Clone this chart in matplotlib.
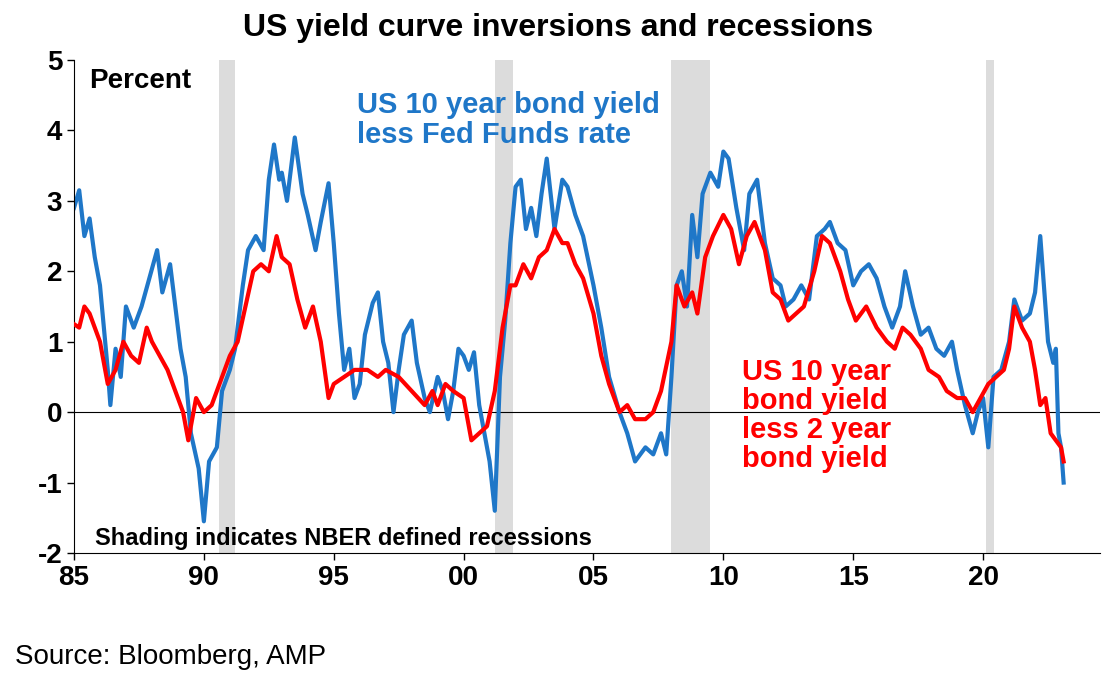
import matplotlib
matplotlib.use("Agg")
import matplotlib.pyplot as plt

plt.rcParams['font.family'] = ['Liberation Sans', 'DejaVu Sans']
plt.rcParams['axes.unicode_minus'] = False

# US 10y bond yield less Fed Funds rate
blue_t = [1985.0, 1985.2, 1985.4, 1985.6, 1985.8, 1986.0, 1986.3, 1986.4, 1986.6, 1986.8, 1987.0, 1987.3,
          1987.6, 1987.9, 1988.2, 1988.4, 1988.7, 1988.9, 1989.1, 1989.3, 1989.5, 1989.8, 1990.0, 1990.2,
          1990.5, 1990.7, 1991.0, 1991.2, 1991.5, 1991.7, 1992.0, 1992.3, 1992.5, 1992.7, 1992.9, 1993.0,
          1993.2, 1993.5, 1993.8, 1994.0, 1994.3, 1994.5, 1994.8, 1995.0, 1995.2, 1995.4, 1995.6, 1995.8,
          1996.0, 1996.2, 1996.5, 1996.7, 1996.9, 1997.1, 1997.3, 1997.5, 1997.7, 1998.0, 1998.2, 1998.5,
          1998.7, 1999.0, 1999.2, 1999.4, 1999.6, 1999.8, 2000.0, 2000.2, 2000.4, 2000.6, 2000.8, 2001.0,
          2001.2, 2001.4, 2001.6, 2001.8, 2002.0, 2002.2, 2002.4, 2002.6, 2002.8, 2003.0, 2003.2, 2003.5,
          2003.8, 2004.0, 2004.3, 2004.6, 2005.0, 2005.3, 2005.6, 2006.0, 2006.3, 2006.6, 2006.8, 2007.0,
          2007.3, 2007.6, 2007.8, 2008.0, 2008.2, 2008.4, 2008.6, 2008.8, 2009.0, 2009.2, 2009.5, 2009.8,
          2010.0, 2010.2, 2010.5, 2010.8, 2011.0, 2011.3, 2011.6, 2011.9, 2012.2, 2012.4, 2012.7, 2013.0,
          2013.3, 2013.6, 2013.9, 2014.1, 2014.4, 2014.7, 2015.0, 2015.3, 2015.6, 2015.9, 2016.2, 2016.5,
          2016.8, 2017.0, 2017.3, 2017.6, 2017.9, 2018.2, 2018.5, 2018.8, 2019.0, 2019.3, 2019.6, 2019.8,
          2020.0, 2020.2, 2020.4, 2020.7, 2021.0, 2021.2, 2021.5, 2021.8, 2022.0, 2022.2, 2022.5, 2022.7,
          2022.8, 2022.9, 2023.0, 2023.1]
blue_v = [2.9, 3.15, 2.5, 2.75, 2.2, 1.8, 0.6, 0.1, 0.9, 0.5, 1.5, 1.2,
          1.5, 1.9, 2.3, 1.7, 2.1, 1.5, 0.9, 0.5, -0.3, -0.8, -1.55, -0.7,
          -0.5, 0.3, 0.6, 0.9, 1.8, 2.3, 2.5, 2.3, 3.3, 3.8, 3.3, 3.4,
          3.0, 3.9, 3.1, 2.8, 2.3, 2.7, 3.25, 2.4, 1.4, 0.6, 0.9, 0.2,
          0.4, 1.1, 1.55, 1.7, 1.0, 0.7, 0.0, 0.6, 1.1, 1.3, 0.7, 0.2,
          0.0, 0.5, 0.3, -0.1, 0.3, 0.9, 0.8, 0.6, 0.85, 0.1, -0.3, -0.7,
          -1.4, 0.5, 1.3, 2.4, 3.2, 3.3, 2.6, 2.9, 2.5, 3.1, 3.6, 2.6,
          3.3, 3.2, 2.8, 2.5, 1.8, 1.2, 0.5, 0.0, -0.3, -0.7, -0.6, -0.5,
          -0.6, -0.3, -0.6, 0.5, 1.8, 2.0, 1.5, 2.8, 2.2, 3.1, 3.4, 3.2,
          3.7, 3.6, 2.9, 2.3, 3.1, 3.3, 2.4, 1.9, 1.8, 1.5, 1.6, 1.8,
          1.6, 2.5, 2.6, 2.7, 2.4, 2.3, 1.8, 2.0, 2.1, 1.9, 1.5, 1.2,
          1.5, 2.0, 1.5, 1.1, 1.2, 0.9, 0.8, 1.0, 0.6, 0.1, -0.3, 0.0,
          0.2, -0.5, 0.5, 0.6, 1.0, 1.6, 1.3, 1.4, 1.7, 2.5, 1.0, 0.7,
          0.9, -0.3, -0.5, -1.0]

# US 10y bond yield less 2y bond yield
red_t = [1985.0, 1985.2, 1985.4, 1985.6, 1986.0, 1986.3, 1986.6, 1986.9, 1987.2, 1987.5, 1987.8, 1988.0,
         1988.3, 1988.6, 1988.9, 1989.2, 1989.4, 1989.7, 1990.0, 1990.3, 1990.6, 1991.0, 1991.3, 1991.6,
         1991.9, 1992.2, 1992.5, 1992.8, 1993.0, 1993.3, 1993.6, 1993.9, 1994.2, 1994.5, 1994.8, 1995.0,
         1995.4, 1995.8, 1996.3, 1996.7, 1997.0, 1997.5, 1998.0, 1998.5, 1998.8, 1999.0, 1999.3, 1999.6,
         2000.0, 2000.3, 2000.6, 2000.9, 2001.2, 2001.5, 2001.8, 2002.0, 2002.3, 2002.6, 2002.9, 2003.2,
         2003.5, 2003.8, 2004.0, 2004.3, 2004.6, 2005.0, 2005.3, 2005.6, 2006.0, 2006.3, 2006.6, 2007.0,
         2007.3, 2007.6, 2008.0, 2008.2, 2008.5, 2008.8, 2009.0, 2009.3, 2009.6, 2010.0, 2010.3, 2010.6,
         2010.9, 2011.2, 2011.6, 2011.9, 2012.2, 2012.5, 2012.8, 2013.1, 2013.5, 2013.8, 2014.1, 2014.5,
         2014.8, 2015.1, 2015.5, 2015.9, 2016.3, 2016.6, 2016.9, 2017.2, 2017.6, 2017.9, 2018.3, 2018.6,
         2019.0, 2019.3, 2019.6, 2019.9, 2020.2, 2020.5, 2020.8, 2021.0, 2021.2, 2021.5, 2021.8, 2022.0,
         2022.2, 2022.4, 2022.6, 2022.8, 2023.0, 2023.1]
red_v = [1.25, 1.2, 1.5, 1.4, 1.0, 0.4, 0.6, 1.0, 0.8, 0.7, 1.2, 1.0,
         0.8, 0.6, 0.3, 0.0, -0.4, 0.2, 0.0, 0.1, 0.4, 0.8, 1.0, 1.5,
         2.0, 2.1, 2.0, 2.5, 2.2, 2.1, 1.6, 1.2, 1.5, 1.0, 0.2, 0.4,
         0.5, 0.6, 0.6, 0.5, 0.6, 0.5, 0.3, 0.1, 0.3, 0.1, 0.4, 0.3,
         0.2, -0.4, -0.3, -0.2, 0.3, 1.2, 1.8, 1.8, 2.1, 1.9, 2.2, 2.3,
         2.6, 2.4, 2.4, 2.1, 1.9, 1.4, 0.8, 0.4, 0.0, 0.1, -0.1, -0.1,
         0.0, 0.3, 1.0, 1.8, 1.5, 1.7, 1.4, 2.2, 2.5, 2.8, 2.6, 2.1,
         2.5, 2.7, 2.3, 1.7, 1.6, 1.3, 1.4, 1.5, 2.0, 2.5, 2.4, 2.0,
         1.6, 1.3, 1.5, 1.2, 1.0, 0.9, 1.2, 1.1, 0.9, 0.6, 0.5, 0.3,
         0.2, 0.2, 0.0, 0.2, 0.4, 0.5, 0.6, 0.9, 1.5, 1.2, 1.0, 0.6,
         0.1, 0.2, -0.3, -0.4, -0.5, -0.7]

recessions = [(1990.6, 1991.2), (2001.2, 2001.9), (2008.0, 2009.5), (2020.1, 2020.4)]
xticks = [1985, 1990, 1995, 2000, 2005, 2010, 2015, 2020]
xlabels = ['85', '90', '95', '00', '05', '10', '15', '20']

fig = plt.figure(figsize=(11.19, 6.84), dpi=100)
ax = fig.add_axes([74/1119, 1-553/684, (1100-74)/1119, (553-60)/684])

for a, b in recessions:
    ax.axvspan(a, b, color='#dcdcdc', lw=0, zorder=0)
ax.axhline(0, color='black', lw=0.8, zorder=1)
ax.plot(blue_t, blue_v, color='#1f77c8', lw=3, zorder=2)
ax.plot(red_t, red_v, color='#ff0000', lw=3, zorder=3)

ax.set_xlim(1985, 2024.5)
ax.set_ylim(-2, 5)
ax.set_xticks(xticks)
ax.set_xticklabels(xlabels)
ax.set_yticks(range(-2, 6))
for s in ['top', 'right']:
    ax.spines[s].set_visible(False)
ax.tick_params(labelsize=20, width=1, length=5)
for lab in ax.get_xticklabels() + ax.get_yticklabels():
    lab.set_fontweight('bold')

ax.text(1985.6, 4.7, 'Percent', fontsize=20, fontweight='bold', va='center')
ax.text(1985.8, -1.8, 'Shading indicates NBER defined recessions', fontsize=17, fontweight='bold', va='center')
ax.text(1995.9, 4.15, 'US 10 year bond yield\nless Fed Funds rate', fontsize=21, fontweight='bold',
        color='#1f77c8', va='center', linespacing=1.1)
ax.text(2010.7, -0.05, 'US 10 year\nbond yield\nless 2 year\nbond yield', fontsize=21, fontweight='bold',
        color='#ff0000', va='center', linespacing=1.05)

fig.text(558/1119, 1-28/684, 'US yield curve inversions and recessions', fontsize=23, fontweight='bold',
         ha='center', va='center')
fig.text(15/1119, 1-657/684, 'Source: Bloomberg, AMP', fontsize=20, va='center')

fig.savefig('out.png', dpi=100)
